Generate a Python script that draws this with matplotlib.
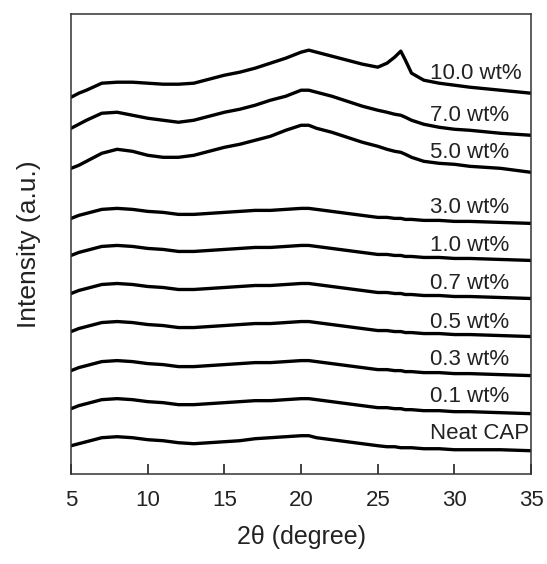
import matplotlib
matplotlib.use("Agg")
import matplotlib.pyplot as plt

plt.rcParams['font.family'] = ['Liberation Sans', 'DejaVu Sans']

# 2theta grid (degree)
two_theta = [5, 5.5, 6, 7, 8, 9, 10, 11, 12, 13, 14, 15, 16, 17, 18, 19, 20, 20.5,
             21, 22, 23, 24, 25, 25.6, 26.1, 26.5, 26.8, 27.2, 28, 29, 30, 31, 33, 35]

# intensity (a.u., already stacked)
wt10_0 = [376, 380, 383, 390, 391, 391, 390, 389, 389, 390, 394, 398, 401, 405, 410, 415, 421, 423,
          421, 417, 413, 409, 406, 410, 416, 422, 413, 400, 393, 390, 388, 386, 383, 380]
wt7_0 = [345, 349, 353, 360, 361, 358, 355, 353, 351, 353, 357, 361, 364, 368, 373, 377, 383, 383,
         381, 377, 372, 367, 363, 361, 359, 358, 356, 353, 349, 346, 344, 343, 340, 338]
wt5_0 = [305, 308, 312, 320, 324, 322, 318, 316, 316, 318, 322, 326, 329, 333, 337, 343, 348, 348,
         345, 341, 336, 331, 327, 324, 322, 321, 319, 316, 312, 310, 309, 307, 305, 301]
wt3_0 = [255, 258, 260, 264, 265, 264, 262, 261, 259, 259, 260, 261, 262, 263, 263, 264, 265, 265,
         264, 262, 260, 258, 256, 256, 255, 255, 254, 254, 253, 253, 252, 252, 251, 250]
wt1_0 = [218, 221, 223, 227, 228, 227, 225, 224, 222, 222, 223, 224, 225, 226, 226, 227, 228, 228,
         227, 225, 223, 221, 219, 219, 218, 218, 217, 217, 216, 216, 215, 215, 214, 213]
wt0_7 = [180, 183, 185, 189, 190, 189, 187, 186, 184, 184, 185, 186, 187, 188, 188, 189, 190, 190,
         189, 187, 185, 183, 181, 181, 180, 180, 179, 179, 178, 178, 177, 177, 176, 175]
wt0_5 = [142, 145, 147, 151, 152, 151, 149, 148, 146, 146, 147, 148, 149, 150, 150, 151, 152, 152,
         151, 149, 147, 145, 143, 143, 142, 142, 141, 141, 140, 140, 139, 139, 138, 137]
wt0_3 = [103, 106, 108, 112, 113, 112, 110, 109, 107, 107, 108, 109, 110, 111, 111, 112, 113, 113,
         112, 110, 108, 106, 104, 104, 103, 103, 102, 102, 101, 101, 100, 100, 99, 98]
wt0_1 = [65, 68, 70, 74, 75, 74, 72, 71, 69, 69, 70, 71, 72, 73, 73, 74, 75, 75,
         74, 72, 70, 68, 66, 66, 65, 65, 64, 64, 63, 63, 62, 62, 61, 60]
neat = [28, 30, 32, 36, 37, 36, 34, 33, 31, 30, 31, 32, 33, 35, 36, 37, 38, 38,
        36, 34, 32, 30, 28, 27, 27, 26, 26, 26, 25, 25, 24, 24, 24, 23]

series = [wt10_0, wt7_0, wt5_0, wt3_0, wt1_0, wt0_7, wt0_5, wt0_3, wt0_1, neat]
labels = ["10.0 wt%", "7.0 wt%", "5.0 wt%", "3.0 wt%", "1.0 wt%", "0.7 wt%",
          "0.5 wt%", "0.3 wt%", "0.1 wt%", "Neat CAP"]
label_y = [400, 358, 321, 266, 228, 190, 151, 114, 77, 40]

fig = plt.figure(figsize=(5.47, 5.64), dpi=100)
ax = fig.add_axes([0.130, 0.160, 0.841, 0.815])

for ys in series:
    ax.plot(two_theta, ys, color='black', lw=2.4, solid_joinstyle='round')

for lab, ly in zip(labels, label_y):
    ax.text(28.4, ly, lab, fontsize=16, color='#222222', va='center', ha='left')

ax.set_xlim(5, 35)
ax.set_ylim(0, 459)
ax.set_xticks([5, 10, 15, 20, 25, 30, 35])
ax.set_yticks([])
ax.tick_params(axis='x', direction='in', length=7.5, width=1.2, labelsize=16,
               pad=12, colors='#222222', top=False)
for sp in ax.spines.values():
    sp.set_color('#333333')
    sp.set_linewidth(1.1)

ax.set_xlabel("2θ (degree)", fontsize=18, color='#222222', labelpad=10)
ax.set_ylabel("Intensity (a.u.)", fontsize=19, color='#222222', labelpad=22)

fig.savefig("out.png", dpi=100)
